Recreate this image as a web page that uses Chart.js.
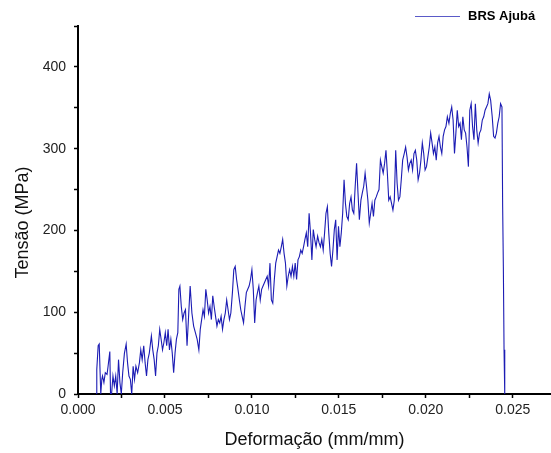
<!DOCTYPE html>
<html>
<head>
<meta charset="utf-8">
<script src="https://cdn.jsdelivr.net/npm/chart.js@4"></script>
<style>
  html, body { margin: 0; padding: 0; background: #fff; }
  #wrap { width: 551px; height: 453px; }
</style>
</head>
<body>
<div id="wrap"><canvas id="stress-chart"></canvas></div>
<script>
const seriesLabel = 'BRS Ajubá'

// deformacao (mm/mm)
const strain = [
    0.00104, 0.00108, 0.00116, 0.00122, 0.00131, 0.00137, 0.00141, 0.00149, 0.00157, 0.00167,
    0.00173, 0.00183, 0.00187, 0.00193, 0.00201, 0.00209, 0.00217, 0.00225, 0.00233, 0.00241,
    0.00249, 0.00257, 0.00267, 0.00277, 0.00285, 0.00293, 0.00301, 0.00309, 0.00317, 0.00325,
    0.00333, 0.00343, 0.00353, 0.00361, 0.00369, 0.00378, 0.00386, 0.00394, 0.00402, 0.00410,
    0.00422, 0.00430, 0.00438, 0.00446, 0.00454, 0.00462, 0.00470, 0.00478, 0.00486, 0.00494,
    0.00502, 0.00510, 0.00518, 0.00526, 0.00534, 0.00542, 0.00550, 0.00558, 0.00566, 0.00574,
    0.00580, 0.00586, 0.00594, 0.00602, 0.00610, 0.00618, 0.00627, 0.00635, 0.00645, 0.00655,
    0.00665, 0.00675, 0.00685, 0.00695, 0.00703, 0.00711, 0.00719, 0.00727, 0.00735, 0.00743,
    0.00751, 0.00759, 0.00767, 0.00775, 0.00783, 0.00791, 0.00799, 0.00807, 0.00815, 0.00823,
    0.00831, 0.00839, 0.00847, 0.00855, 0.00863, 0.00871, 0.00879, 0.00888, 0.00896, 0.00904,
    0.00912, 0.00920, 0.00928, 0.00936, 0.00944, 0.00952, 0.00960, 0.00968, 0.00976, 0.00984,
    0.00992, 0.01000, 0.01008, 0.01016, 0.01024, 0.01032, 0.01040, 0.01048, 0.01056, 0.01064,
    0.01072, 0.01080, 0.01088, 0.01096, 0.01104, 0.01112, 0.01120, 0.01129, 0.01137, 0.01145,
    0.01153, 0.01161, 0.01169, 0.01177, 0.01185, 0.01193, 0.01201, 0.01209, 0.01217, 0.01225,
    0.01233, 0.01241, 0.01249, 0.01257, 0.01265, 0.01273, 0.01281, 0.01289, 0.01297, 0.01305,
    0.01313, 0.01321, 0.01329, 0.01337, 0.01345, 0.01353, 0.01361, 0.01369, 0.01378, 0.01386,
    0.01394, 0.01402, 0.01410, 0.01418, 0.01426, 0.01434, 0.01442, 0.01450, 0.01458, 0.01466,
    0.01474, 0.01482, 0.01490, 0.01498, 0.01506, 0.01514, 0.01522, 0.01530, 0.01538, 0.01546,
    0.01554, 0.01562, 0.01570, 0.01578, 0.01586, 0.01594, 0.01602, 0.01610, 0.01618, 0.01627,
    0.01635, 0.01643, 0.01651, 0.01659, 0.01667, 0.01675, 0.01683, 0.01691, 0.01699, 0.01707,
    0.01715, 0.01723, 0.01731, 0.01739, 0.01747, 0.01755, 0.01763, 0.01771, 0.01779, 0.01787,
    0.01795, 0.01803, 0.01811, 0.01819, 0.01827, 0.01835, 0.01843, 0.01851, 0.01859, 0.01867,
    0.01876, 0.01884, 0.01892, 0.01900, 0.01908, 0.01916, 0.01924, 0.01932, 0.01940, 0.01948,
    0.01956, 0.01964, 0.01972, 0.01980, 0.01988, 0.01996, 0.02004, 0.02012, 0.02020, 0.02028,
    0.02036, 0.02044, 0.02052, 0.02060, 0.02068, 0.02076, 0.02084, 0.02092, 0.02100, 0.02108,
    0.02116, 0.02124, 0.02133, 0.02141, 0.02149, 0.02157, 0.02165, 0.02173, 0.02181, 0.02189,
    0.02197, 0.02205, 0.02213, 0.02221, 0.02229, 0.02237, 0.02245, 0.02253, 0.02261, 0.02269,
    0.02277, 0.02285, 0.02293, 0.02301, 0.02309, 0.02317, 0.02325, 0.02333, 0.02341, 0.02349,
    0.02357, 0.02365, 0.02373, 0.02382, 0.02390, 0.02398, 0.02406, 0.02414, 0.02422, 0.02430,
    0.02438, 0.02442, 0.02446, 0.02450, 0.02454
]

// tensao (MPa)
const stress = [
    0, 30, 59, 61, 0, 18, 22, 14, 26, 24,
    34, 52, 0, 0, 22, 10, 22, 0, 42, 14,
    0, 26, 50, 61, 38, 22, 18, 0, 34, 18,
    34, 26, 38, 54, 42, 59, 38, 22, 42, 50,
    71, 54, 42, 22, 50, 59, 79, 67, 54, 63,
    75, 59, 79, 54, 67, 50, 26, 50, 67, 75,
    128, 132, 107, 91, 99, 103, 59, 91, 132, 99,
    83, 75, 67, 54, 79, 91, 103, 95, 128, 115,
    99, 107, 91, 120, 107, 95, 83, 91, 87, 95,
    79, 91, 99, 115, 103, 91, 99, 124, 152, 156,
    140, 128, 115, 103, 95, 87, 107, 124, 128, 132,
    140, 152, 128, 87, 115, 124, 132, 115, 128, 132,
    136, 140, 144, 132, 160, 115, 111, 140, 160, 168,
    176, 172, 180, 189, 172, 160, 132, 144, 152, 144,
    156, 144, 160, 140, 164, 168, 176, 172, 180, 189,
    197, 180, 221, 197, 164, 201, 189, 180, 193, 185,
    180, 189, 176, 197, 221, 229, 197, 172, 156, 176,
    201, 213, 164, 205, 180, 197, 221, 262, 233, 217,
    213, 233, 241, 225, 221, 254, 282, 246, 213, 237,
    246, 254, 270, 254, 237, 209, 221, 233, 217, 237,
    241, 246, 250, 286, 278, 270, 282, 298, 270, 237,
    241, 233, 225, 237, 298, 258, 237, 241, 262, 286,
    294, 302, 290, 274, 282, 286, 274, 294, 298, 286,
    262, 270, 286, 307, 294, 274, 278, 290, 302, 319,
    307, 294, 302, 286, 307, 315, 302, 294, 315, 323,
    327, 339, 331, 343, 351, 335, 294, 319, 347, 327,
    331, 311, 339, 323, 319, 302, 278, 347, 355, 327,
    311, 355, 323, 307, 319, 323, 335, 339, 347, 351,
    355, 367, 359, 339, 315, 313, 319, 331, 339, 355,
    351, 229, 156, 54, 0
]

const points = strain.map((s, i) => ({ x: s, y: stress[i] }))
const lineColor = 'rgb(28, 28, 180)'

// legenda no canto superior direito
const legendPlugin = {
    id: 'cornerLegend',
    afterDraw(chart) {
        const ctx = chart.ctx
        ctx.save()
        ctx.strokeStyle = 'rgb(90, 90, 200)'
        ctx.lineWidth = 1
        ctx.beginPath()
        ctx.moveTo(415, 16.5)
        ctx.lineTo(460, 16.5)
        ctx.stroke()
        ctx.fillStyle = '#000'
        ctx.font = 'bold 13px "Liberation Sans", Arial, sans-serif'
        ctx.textBaseline = 'middle'
        ctx.fillText(seriesLabel, 468, 16)
        ctx.restore()
    }
}

const tickFont = { family: '"Liberation Sans", Arial, sans-serif', size: 14 }
const titleFont = { family: '"Liberation Sans", Arial, sans-serif', size: 18 }

const config = {
    type: 'scatter',
    data: {
        datasets: [{
            label: seriesLabel,
            data: points,
            showLine: true,
            borderColor: lineColor,
            borderWidth: 1.1,
            pointRadius: 0,
            tension: 0
        }]
    },
    options: {
        responsive: true,
        maintainAspectRatio: false,
        animation: false,
        layout: { padding: { top: 26, right: 0, left: 0, bottom: 0 } },
        plugins: {
            legend: { display: false },
            tooltip: { enabled: false }
        },
        scales: {
            x: {
                type: 'linear',
                min: 0,
                max: 0.0272,
                afterFit: s => { s.height = 59 },
                border: { color: '#000', width: 2 },
                grid: { drawOnChartArea: false, drawTicks: true, tickLength: 4, color: '#000', tickWidth: 1.5 },
                ticks: {
                    stepSize: 0.0025,
                    includeBounds: false,
                    autoSkip: false,
                    maxRotation: 0,
                    padding: 4,
                    color: '#222',
                    font: tickFont,
                    callback: v => (Math.round(v * 10000) % 50 === 0 ? v.toFixed(3) : '')
                },
                title: {
                    display: true,
                    text: 'Deformação (mm/mm)',
                    color: '#111',
                    font: titleFont,
                    padding: { top: 1, bottom: 2 }
                }
            },
            y: {
                min: 0,
                max: 450,
                afterFit: s => { s.width = 78 },
                border: { color: '#000', width: 2 },
                grid: { drawOnChartArea: false, drawTicks: true, tickLength: 4, color: '#000', tickWidth: 1.5 },
                ticks: {
                    stepSize: 50,
                    autoSkip: false,
                    padding: 8,
                    color: '#222',
                    font: tickFont,
                    callback: v => (v % 100 === 0 ? v : '')
                },
                title: {
                    display: true,
                    text: 'Tensão (MPa)     ',
                    color: '#111',
                    font: titleFont,
                    padding: { top: 12, bottom: 4 }
                }
            }
        }
    },
    plugins: [legendPlugin]
}

const myChart = new Chart(document.getElementById('stress-chart'), config)
</script>
</body>
</html>
